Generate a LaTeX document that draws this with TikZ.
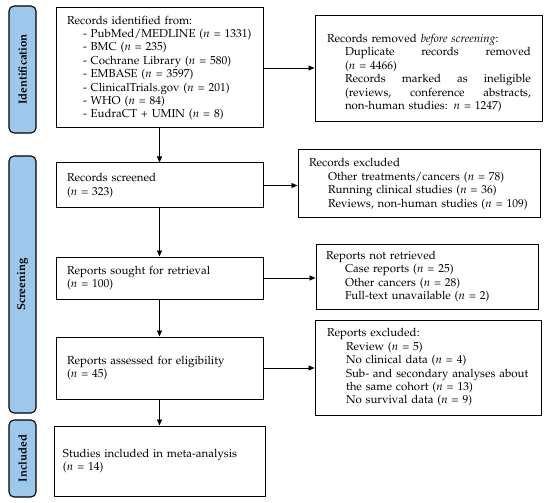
\documentclass[tikz,border=0pt]{standalone}
\usepackage[T1]{fontenc}
\usepackage{mathpazo}
\usetikzlibrary{arrows.meta}
\definecolor{barblue}{RGB}{157,200,235}
\newcommand{\itemline}[2]{\hspace*{#1}\mbox{#2}}
\begin{document}
\begin{tikzpicture}[x=1pt,y=-1pt,
  box/.style={draw, line width=1pt, align=left, inner ysep=0pt,
    font=\fontsize{11.5}{13.4}\selectfont},
  stage/.style={draw, line width=1.1pt, fill=barblue, rounded corners=5pt,
    rotate=90, minimum height=27pt, inner sep=0pt,
    font=\fontsize{11.5}{14}\selectfont\bfseries},
  arr/.style={-{Triangle[length=6pt,width=5pt]}, line width=0.8pt}]
\useasboundingbox (0,0) rectangle (550,503);

% stage bars
\node[stage, minimum width=127pt] (s1) at (22.5,69.5) {Identification};
\node[stage, minimum width=257pt] (s2) at (22.5,284.5) {Screening};
\node[stage, minimum width=77pt] (s3) at (22.5,458.5) {Included};

% main column
\node[box, text width=185pt, inner xsep=11pt, minimum height=120pt] (b1) at (159.5,68) {%
Records identified from:\\
\itemline{16pt}{- PubMed/MEDLINE ($n$ = 1331)}\\
\itemline{16pt}{- BMC ($n$ = 235)}\\
\itemline{16pt}{- Cochrane Library ($n$ = 580)}\\
\itemline{16pt}{- EMBASE ($n$ = 3597)}\\
\itemline{16pt}{- ClinicalTrials.gov ($n$ = 201)}\\
\itemline{16pt}{- WHO ($n$ = 84)}\\
\itemline{16pt}{- EudraCT + UMIN ($n$ = 8)}};

\node[box, text width=185pt, inner xsep=11pt, minimum height=45pt] (b2) at (159.5,185.5) {%
Records screened\\($n$ = 323)};

\node[box, text width=185pt, inner xsep=11pt, minimum height=42pt] (b3) at (159.5,278) {%
Reports sought for retrieval\\($n$ = 100)};

\node[box, text width=185pt, inner xsep=11pt, minimum height=62pt] (b4) at (159.5,368) {%
Reports assessed for eligibility\\($n$ = 45)};

\node[box, text width=193pt, inner xsep=9pt, minimum height=70pt] (b5) at (159.5,461) {%
Studies included in meta-analysis\\($n$ = 14)};

% right column
\node[box, text width=203pt, inner xsep=12pt, minimum height=106pt] (r1) at (428.5,69) {%
\mbox{}\\[3pt]
\mbox{Records removed \textit{before screening}:}\\
\itemline{18pt}{\makebox[186pt][l]{Duplicate\hfill records\hfill removed}}\\
\itemline{18pt}{($n$ = 4466)}\\
\itemline{18pt}{\makebox[186pt][l]{Records\hfill marked\hfill as\hfill ineligible}}\\
\itemline{18pt}{\makebox[186pt][l]{(reviews,\hfill conference\hfill abstracts,}}\\
\itemline{18pt}{non-human studies: $n$ = 1247)}};

\node[box, text width=220pt, inner xsep=11pt, minimum height=68pt] (r2) at (419,184) {%
Records excluded\\
\itemline{19pt}{Other treatments/cancers ($n$ = 78)}\\
\itemline{19pt}{Running clinical studies ($n$ = 36)}\\
\itemline{19pt}{Reviews, non-human studies ($n$ = 109)}};

\node[box, text width=202pt, inner xsep=10pt, minimum height=65pt] (r3) at (427,276.5) {%
Reports not retrieved\\
\itemline{19pt}{Case reports ($n$ = 25)}\\
\itemline{19pt}{Other cancers ($n$ = 28)}\\
\itemline{19pt}{Full-text unavailable ($n$ = 2)}};

\node[box, text width=202pt, inner xsep=12pt, minimum height=95pt] (r4) at (428,367.5) {%
Reports excluded:\\
\itemline{19pt}{Review ($n$ = 5)}\\
\itemline{19pt}{No clinical data ($n$ = 4)}\\
\itemline{19pt}{Sub- and secondary analyses about}\\
\itemline{19pt}{the same cohort ($n$ = 13)}\\
\itemline{19pt}{No survival data ($n$ = 9)}};

% connectors
\draw[arr] (b1.south) -- (b2.north);
\draw[arr] (b2.south) -- (b3.north);
\draw[arr] (b3.south) -- (b4.north);
\draw[arr] (b4.south) -- (b5.north);
\draw[arr] (b1.east) -- (r1.west |- b1.east);
\draw[arr] (b2.east) -- (r2.west |- b2.east);
\draw[arr] (b3.east) -- (r3.west |- b3.east);
\draw[arr] (b4.east) -- (r4.west |- b4.east);
\end{tikzpicture}
\end{document}
